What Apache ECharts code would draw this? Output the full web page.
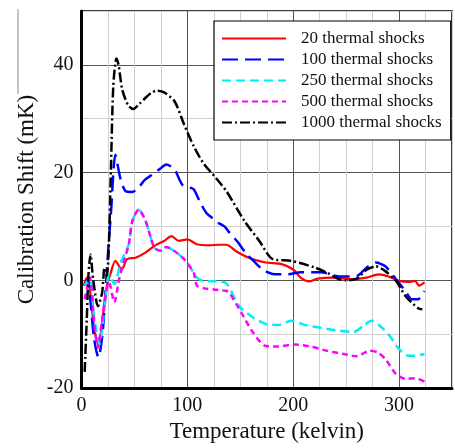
<!DOCTYPE html>
<html>
<head>
<meta charset="utf-8">
<script src="https://cdn.jsdelivr.net/npm/echarts@6/dist/echarts.min.js"></script>
<style>
  html, body { margin: 0; padding: 0; background: #fff; }
  #chart { width: 455px; height: 448px; }
</style>
</head>
<body>
<div id="chart"></div>
<script>
// legend names
var seriesNames = ['20 thermal shocks', '100 thermal shocks', '250 thermal shocks', '500 thermal shocks', '1000 thermal shocks'];

// 20 shocks
var temp20  = [2, 5, 8, 12, 16, 20, 24, 27, 32, 38, 43, 51, 60, 69, 78, 85, 92, 100, 109, 121, 130, 137, 146, 158, 174, 189, 200, 207, 215, 223, 238, 254, 269, 281, 290, 300, 309, 315, 319, 324];
var shift20 = [-1, 0.5, -2, -9, -12, -7, -1, 1, 3.6, 2, 3.9, 4.2, 5.1, 6.4, 7.3, 8.2, 7.3, 7.6, 6.7, 6.5, 6.6, 6.6, 5.4, 4.2, 3.3, 3, 2, 0.5, -0.2, 0.3, 0.5, 0.2, 0.5, 1.1, 0.7, -0.1, -0.3, -0.1, -1, -0.4];

// 100 shocks
var temp100  = [3, 6, 9, 12, 16, 20, 25, 28, 32, 37, 42, 48, 55, 60, 66, 71, 76, 80, 84, 88, 95, 101, 106, 112, 118, 124, 129, 135, 140, 148, 155, 163, 171, 177, 183, 195, 207, 226, 244, 260, 269, 278, 287, 297, 306, 312, 318, 324];
var shift100 = [-1, 0.2, -5, -11, -14.3, -9.7, 5, 13, 23.3, 18.7, 16.5, 16.4, 17.5, 18.7, 19.5, 20.2, 21, 21.5, 21.2, 20.6, 17.8, 17.3, 16.9, 14.5, 12.5, 11.5, 10.7, 10, 8.8, 7, 5.1, 3.5, 2, 1.4, 1.1, 1.1, 1.5, 1.5, 0.7, 0.8, 2.3, 3.3, 2.6, 0.2, -2, -3.5, -3.5, -2];

// 250 shocks
var temp250  = [3, 8, 12, 17, 20, 23, 26, 31, 37, 44.7, 48, 54, 60, 65, 69, 75, 80, 88, 97, 106, 109, 115, 128, 137, 149, 162, 174, 186, 198, 211, 226, 241, 257, 266, 274, 281, 291, 300, 309, 316, 324];
var shift250 = [-1, 0.5, -7, -11.9, -8, -2.9, 1.1, -0.7, 3.3, 6.7, 11, 13.1, 11.3, 8.2, 6, 5.5, 6.2, 5.4, 3.9, 1.4, 0.5, -0.1, -0.2, -0.6, -4.8, -6.9, -8.1, -8.3, -7.5, -8.3, -8.8, -9.3, -9.6, -8.5, -7.5, -8.3, -10.3, -12.8, -14, -14, -13.7];

// 500 shocks
var temp500  = [3, 8, 12, 15.5, 19, 23, 26, 31, 35.5, 40, 44.7, 48, 54, 60, 65, 69, 75, 80, 88, 97, 106, 109, 116, 125, 137, 140, 151, 162, 174, 186, 201, 217, 232, 248, 260, 272, 280, 287, 297, 306, 315, 324];
var shift500 = [-3.5, 0.5, -8, -12.5, -8, -2.3, -0.4, -4.1, 0.2, 3.5, 6.7, 11, 13.1, 11.3, 8.2, 6, 5.5, 6.2, 5.4, 3.9, 1.4, -1, -1.5, -1.7, -2, -2.4, -6, -9.7, -12.2, -12.3, -11.9, -12.3, -13.1, -13.7, -14.1, -13.1, -13.4, -14.6, -17.4, -18.3, -18.2, -18.8];

// 1000 shocks
var temp1000  = [3, 5, 6.5, 8.5, 11, 15.5, 19.5, 21.7, 23.8, 25.6, 27.8, 30, 33, 35, 38.5, 44, 49, 55, 60, 66, 71, 78, 88, 97, 106, 115, 127, 137, 154, 168, 180, 198, 220, 232, 243, 250, 260, 269, 278, 287, 297, 306, 318, 322];
var shift1000 = [-17, -7.2, 0.8, 4.8, 0.2, -4.8, -2.3, 2.3, 0.8, 5.1, 20.6, 36, 41.2, 40, 35.4, 32.5, 31.8, 32.8, 33.8, 34.8, 35.2, 34.9, 33.2, 28.9, 24.9, 21.8, 19, 16.5, 11, 7.3, 4, 3.6, 2.4, 1.4, 0.2, 0, 0.3, 1.9, 2.6, 1.7, -0.1, -2.9, -5.2, -5.4];

var xTickLabels = [0, 100, 200, 300];
var yTickLabels = [-20, 0, 20, 40];

var serifFont = '"Liberation Serif", "Times New Roman", serif';

function pairs(xs, ys) {
    var out = [];
    for (var i = 0; i < xs.length; i++) out.push([xs[i], ys[i]]);
    return out;
}

function makeLine(name, xs, ys, color, dash, width) {
    return {
        name: name,
        type: 'line',
        data: pairs(xs, ys),
        showSymbol: false,
        symbol: 'none',
        smooth: 0.25,
        lineStyle: { color: color, width: width, type: dash },
        itemStyle: { color: color },
        animation: false
    };
}

var chart = echarts.init(document.getElementById('chart'));
var option = {
    backgroundColor: '#fff',
    animation: false,
    textStyle: { fontFamily: serifFont },
    grid: {
        left: 81.5, right: -5, top: 11, bottom: 60,
        show: true, borderColor: '#000', borderWidth: 1.5, backgroundColor: 'transparent'
    },
    legend: {
        orient: 'vertical',
        left: 214, top: 21,
        padding: [9, 9, 9, 7],
        itemWidth: 64, itemHeight: 14, itemGap: 4,
        backgroundColor: '#fff',
        borderColor: '#000', borderWidth: 1.2,
        data: seriesNames,
        itemStyle: { opacity: 0, borderWidth: 0 },
        textStyle: { fontFamily: serifFont, fontSize: 17, color: '#111', lineHeight: 17, padding: [0, 0, 0, 10] }
    },
    xAxis: {
        type: 'value', min: 0, max: 350, interval: 25,
        name: 'Temperature (kelvin)', nameLocation: 'middle', nameGap: 32,
        nameMoveOverlap: false,
        nameTextStyle: { fontFamily: serifFont, fontSize: 23, color: '#111' },
        axisLine: { show: true, onZero: false, lineStyle: { color: '#000', width: 3 } },
        axisTick: { show: false },
        axisLabel: {
            fontFamily: serifFont, fontSize: 20, color: '#111', margin: 8,
            formatter: function (v) { return xTickLabels.indexOf(v) >= 0 ? String(v) : ''; }
        },
        splitLine: { show: true, lineStyle: { color: ['#555', '#d0d0d0', '#d0d0d0', '#d0d0d0'], width: 1 } }
    },
    yAxis: {
        type: 'value', min: -20, max: 50, interval: 10,
        name: 'Calibration Shift (mK)', nameLocation: 'middle', nameGap: 43,
        nameMoveOverlap: false,
        nameTextStyle: { fontFamily: serifFont, fontSize: 23, color: '#111' },
        axisLine: { show: true, onZero: false, lineStyle: { color: '#000', width: 3 } },
        axisTick: { show: false },
        axisLabel: {
            fontFamily: serifFont, fontSize: 20, color: '#111', margin: 8,
            formatter: function (v) { return yTickLabels.indexOf(v) >= 0 ? String(v) : ''; }
        },
        splitLine: { show: true, lineStyle: { color: ['#555', '#d0d0d0'], width: 1 } }
    },
    graphic: [{
        type: 'line', shape: { x1: 18, y1: 9, x2: 18, y2: 94 },
        style: { stroke: '#888', lineWidth: 1 }
    }],
    series: [
        makeLine(seriesNames[0], temp20, shift20, '#ff0000', 'solid', 2.2),
        makeLine(seriesNames[1], temp100, shift100, '#0000ff', [16, 7], 2.5),
        makeLine(seriesNames[2], temp250, shift250, '#00eef4', [9, 5], 2.5),
        makeLine(seriesNames[3], temp500, shift500, '#ff00ff', [6, 4], 2.5),
        makeLine(seriesNames[4], temp1000, shift1000, '#000000', [10, 3, 2, 3], 2.5)
    ]
};
chart.setOption(option);
</script>
</body>
</html>
